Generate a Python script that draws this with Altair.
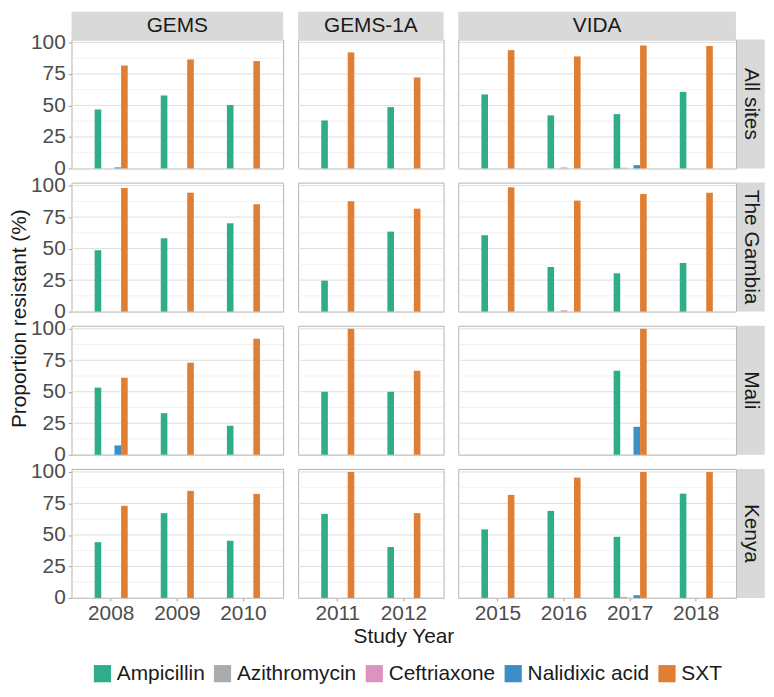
import altair as alt
import pandas as pd

# ---------------- data ----------------
YEARS = ["2008", "2009", "2010", "2011", "2012", "2015", "2016", "2017", "2018"]
STUDY_OF_YEAR = ["GEMS", "GEMS", "GEMS", "GEMS-1A", "GEMS-1A", "VIDA", "VIDA", "VIDA", "VIDA"]
STUDIES = ["GEMS", "GEMS-1A", "VIDA"]
SITES = ["All sites", "The Gambia", "Mali", "Kenya"]
ANTIBIOTICS = ["Ampicillin", "Azithromycin", "Ceftriaxone", "Nalidixic acid", "SXT"]
COLORS = ["#2FAD89", "#ABABAB", "#DC94BE", "#3B8EC6", "#E07E33"]

# All sites
ALL_AMP = [46.8, 57.9, 50.3, 38.1, 48.7, 58.7, 42.1, 43.1, 60.8]
ALL_AZI = [0, 0, 0, 0, 0, 0, 0, 0.5, 0]
ALL_CEF = [0, 0, 0, 0, 0, 0, 0.8, 0, 0]
ALL_NAL = [0.8, 0, 0, 0, 0, 0, 0, 2.6, 0]
ALL_SXT = [81.7, 86.5, 85.2, 92.1, 72.2, 93.9, 88.9, 97.6, 97.1]
# The Gambia
GMB_AMP = [48.7, 58.2, 70.1, 24.6, 63.5, 60.6, 35.4, 30.4, 38.6]
GMB_AZI = [0, 0, 0, 0, 0, 0, 0, 0, 0]
GMB_CEF = [0, 0, 0, 0, 0, 0, 1.0, 0, 0]
GMB_NAL = [0, 0, 0, 0, 0, 0, 0, 0, 0]
GMB_SXT = [98.1, 94.4, 85.2, 87.6, 81.7, 98.7, 88.1, 93.4, 94.4]
# Mali (no VIDA isolates in 2015, 2016, 2018)
MLI_AMP = [53.3, 33.0, 23.0, 50.0, 50.0, None, None, 66.7, None]
MLI_AZI = [0, 0, 0, 0, 0, None, None, 0, None]
MLI_CEF = [0, 0, 0, 0, 0, None, None, 0, None]
MLI_NAL = [7.4, 0, 0, 0, 0, None, None, 22.2, None]
MLI_SXT = [61.2, 73.1, 92.1, 100.0, 66.7, None, None, 100.0, None]
# Kenya
KEN_AMP = [44.3, 67.3, 45.4, 66.7, 40.4, 54.4, 69.1, 48.5, 82.8]
KEN_AZI = [0, 0, 0, 0, 0, 0, 0, 0.8, 0]
KEN_CEF = [0, 0, 0, 0, 0, 0, 0, 0, 0]
KEN_NAL = [0, 0, 0, 0, 0, 0, 0, 2.1, 0]
KEN_SXT = [73.1, 85.0, 82.6, 100.0, 67.3, 81.8, 95.5, 100.0, 100.0]

SITE_DATA = {
    "All sites": [ALL_AMP, ALL_AZI, ALL_CEF, ALL_NAL, ALL_SXT],
    "The Gambia": [GMB_AMP, GMB_AZI, GMB_CEF, GMB_NAL, GMB_SXT],
    "Mali": [MLI_AMP, MLI_AZI, MLI_CEF, MLI_NAL, MLI_SXT],
    "Kenya": [KEN_AMP, KEN_AZI, KEN_CEF, KEN_NAL, KEN_SXT],
}

MAJOR_GRID = [0, 25, 50, 75, 100]
MINOR_GRID = [12.5, 37.5, 62.5, 87.5]

Y_TITLE = "Proportion resistant (%)"
X_TITLE = "Study Year"

records = []
for site in SITES:
    for ab, vals in zip(ANTIBIOTICS, SITE_DATA[site]):
        for yr, st, v in zip(YEARS, STUDY_OF_YEAR, vals):
            if v is not None:
                records.append({"site": site, "study": st, "year": yr,
                                "antibiotic": ab, "value": v})
df = pd.DataFrame(records)

# ---------------- layout ----------------
FONT = "Liberation Sans"
UNIT = 66.65
SP_X = 14.4
SP_Y = 14.3
PANEL_H = 130
STRIP_H = 28
RSTRIP_W = 28
YMAX = 102.4
STRIP_FILL = "#D9D9D9"
TXT = "#1A1A1A"

years_of = {s: [y for y, st in zip(YEARS, STUDY_OF_YEAR) if st == s] for s in STUDIES}
width_of = {s: UNIT * (len(years_of[s]) - 0.5 + 0.7) for s in STUDIES}
left_of = {}
acc = 0.0
for s in STUDIES:
    left_of[s] = acc
    acc += width_of[s] + SP_X
TOTAL_W = acc - SP_X
ROW4_TOP = 3 * (PANEL_H + SP_Y)

legend = alt.Legend(
    orient="none", legendX=20.7, legendY=628.5, direction="horizontal",
    title=None, symbolType="square", symbolSize=300, symbolStrokeWidth=0,
    symbolOpacity=1, labelFontSize=21, labelColor=TXT, labelFont=FONT,
    labelOffset=4, columnPadding=7, padding=0,
)


def panel(site, study, i, j):
    first_col = j == 0
    last_row = i == len(SITES) - 1
    last_col = j == len(STUDIES) - 1
    w = width_of[study]
    sub = df[(df.site == site) & (df.study == study)]
    yscale = alt.Scale(domain=[0, YMAX], nice=False, zero=True)
    if first_col:
        yaxis = alt.Axis(values=MAJOR_GRID, title=None, grid=False, domain=False,
                         tickSize=3.3, tickColor="#A0A0A0", labelPadding=3,
                         labelFontSize=21, labelColor="#4D4D4D", labelFont=FONT)
    else:
        yaxis = None
    if last_row:
        xaxis = alt.Axis(title=None, grid=False, domain=False, tickSize=3,
                         tickColor="#A0A0A0", labelPadding=2, labelAngle=0,
                         labelFontSize=21, labelColor="#4D4D4D", labelFont=FONT)
    else:
        xaxis = None

    layers = []
    layers.append(alt.Chart(pd.DataFrame({"value": MINOR_GRID})).mark_rule(
        color="#E8E8E8", strokeWidth=0.6
    ).encode(y=alt.Y("value:Q", scale=yscale, axis=yaxis)))
    layers.append(alt.Chart(pd.DataFrame({"value": MAJOR_GRID})).mark_rule(
        color="#DEDEDE", strokeWidth=1
    ).encode(y=alt.Y("value:Q", scale=yscale, axis=yaxis)))
    layers.append(alt.Chart(sub).mark_bar().encode(
        x=alt.X("year:N", scale=alt.Scale(domain=years_of[study], paddingInner=0.5,
                                          paddingOuter=0.35), axis=xaxis),
        xOffset=alt.XOffset("antibiotic:N",
                            scale=alt.Scale(domain=ANTIBIOTICS, paddingInner=0,
                                            paddingOuter=0)),
        y=alt.Y("value:Q", scale=yscale, axis=yaxis),
        color=alt.Color("antibiotic:N",
                        scale=alt.Scale(domain=ANTIBIOTICS, range=COLORS),
                        legend=legend if (i == 0 and j == 0) else None),
    ))

    if i == 0:  # top strip
        d = pd.DataFrame({"t": [study]})
        layers.append(alt.Chart(d).mark_rect(color=STRIP_FILL).encode(
            x=alt.value(0), x2=alt.value(w), y=alt.value(-STRIP_H), y2=alt.value(0)))
        layers.append(alt.Chart(d).mark_text(
            fontSize=21, color=TXT, font=FONT, align="center", baseline="middle"
        ).encode(text="t:N", x=alt.value(w / 2), y=alt.value(-STRIP_H / 2)))
    if last_col:  # right strip
        d = pd.DataFrame({"t": [site]})
        layers.append(alt.Chart(d).mark_rect(color=STRIP_FILL).encode(
            x=alt.value(w + 1), x2=alt.value(w + 1 + RSTRIP_W),
            y=alt.value(0), y2=alt.value(PANEL_H)))
        layers.append(alt.Chart(d).mark_text(
            fontSize=21, color=TXT, font=FONT, align="center", baseline="middle",
            angle=90
        ).encode(text="t:N", x=alt.value(w + 1 + RSTRIP_W / 2),
                 y=alt.value(PANEL_H / 2)))
    if last_row and first_col:  # y title, centred on the panel block
        d = pd.DataFrame({"t": [Y_TITLE]})
        layers.append(alt.Chart(d).mark_text(
            fontSize=21, color=TXT, font=FONT, align="center", baseline="middle",
            angle=270
        ).encode(text="t:N", x=alt.value(-52),
                 y=alt.value((4 * PANEL_H + 3 * SP_Y) / 2 - ROW4_TOP)))
    if last_row and j == 1:  # x title, centred on the panel block
        d = pd.DataFrame({"t": [X_TITLE]})
        layers.append(alt.Chart(d).mark_text(
            fontSize=21, color=TXT, font=FONT, align="center", baseline="middle"
        ).encode(text="t:N", x=alt.value(TOTAL_W / 2 - left_of[study]),
                 y=alt.value(169)))

    return alt.layer(*layers).properties(
        width=w, height=PANEL_H,
        view=alt.ViewBackground(fill="white", stroke="#B3B3B3", strokeWidth=1),
    )


charts = [panel(site, study, i, j)
          for i, site in enumerate(SITES) for j, study in enumerate(STUDIES)]

chart = alt.concat(
    *charts, columns=3, spacing=alt.RowColnumber(row=SP_Y, column=SP_X),
    bounds="flush", align="each",
).resolve_scale(xOffset="independent").properties(padding=0).configure(
    font=FONT).configure_view(stroke="transparent")

chart.save("out.html", embed_options={"renderer": "svg", "actions": False})
